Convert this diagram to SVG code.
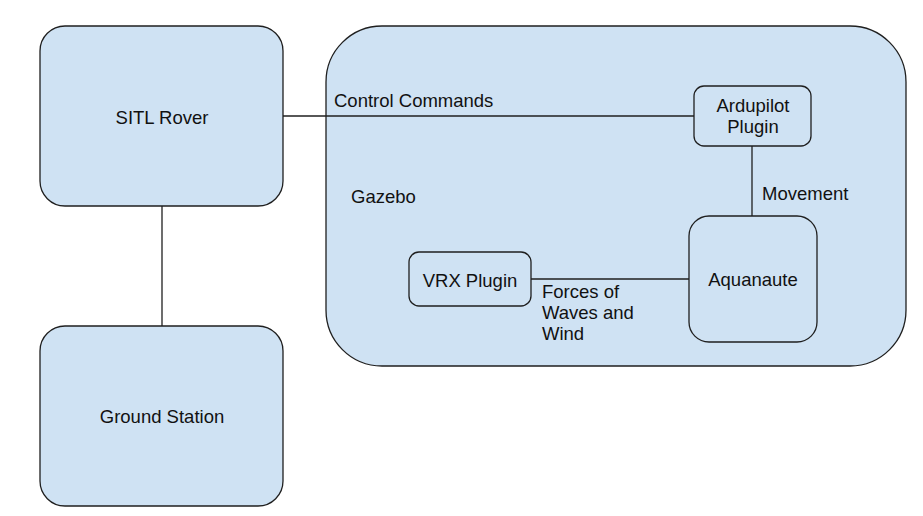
<svg xmlns="http://www.w3.org/2000/svg" width="923" height="516" viewBox="0 0 923 516">
<style>
.box{fill:#cfe2f3;stroke:#1f1f1f;stroke-width:1.3}
.ln{stroke:#1f1f1f;stroke-width:1.3;fill:none}
text{font-family:"Liberation Sans",Arial,sans-serif;font-size:18.5px;fill:#111111}
.c{text-anchor:middle}
</style>
<rect width="923" height="516" fill="#ffffff"/>
<g id="gazebo">
<rect class="box" x="326" y="26" width="580" height="340" rx="56" ry="56"/>
<text x="351" y="203">Gazebo</text>
</g>
<g id="sitl-rover">
<rect class="box" x="40" y="26" width="243" height="180" rx="25" ry="25"/>
<text class="c" x="162" y="124">SITL Rover</text>
</g>
<g id="ground-station">
<rect class="box" x="40" y="326" width="243" height="180" rx="25" ry="25"/>
<text class="c" x="162" y="423">Ground Station</text>
</g>
<g id="ardupilot-plugin">
<rect class="box" x="694" y="86" width="117" height="60" rx="10" ry="10"/>
<text class="c" x="753" y="112">Ardupilot</text>
<text class="c" x="753" y="133">Plugin</text>
</g>
<g id="aquanaute">
<rect class="box" x="689" y="216" width="128" height="126" rx="20" ry="20"/>
<text class="c" x="753" y="286">Aquanaute</text>
</g>
<g id="vrx-plugin">
<rect class="box" x="409" y="252" width="122" height="54" rx="10" ry="10"/>
<text class="c" x="470" y="287">VRX Plugin</text>
</g>
<g id="connectors">
<path class="ln" d="M283 116 H694"/>
<path class="ln" d="M162 206 V326"/>
<path class="ln" d="M752 146 V216"/>
<path class="ln" d="M531 279 H689"/>
<text x="334" y="107">Control Commands</text>
<text x="762" y="200">Movement</text>
<text x="542" y="298">Forces of</text>
<text x="542" y="319">Waves and</text>
<text x="542" y="340">Wind</text>
</g>
</svg>
